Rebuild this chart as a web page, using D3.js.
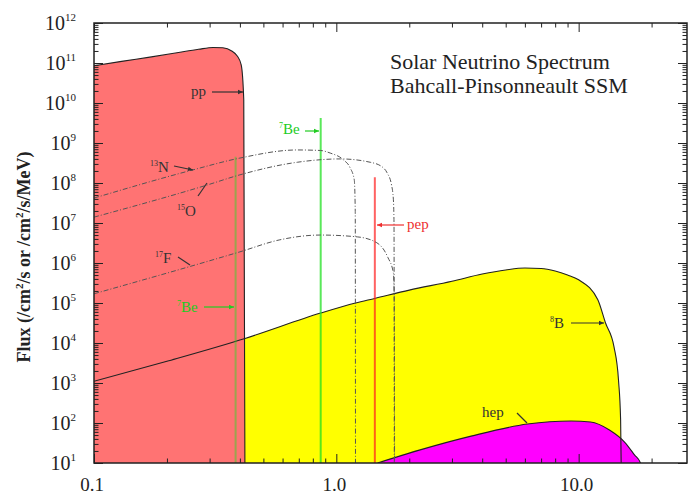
<!DOCTYPE html>
<html>
<head>
<meta charset="utf-8">
<script src="https://cdn.jsdelivr.net/npm/d3@7"></script>
<style>
body{margin:0;background:#fff}
svg{display:block;font-family:"Liberation Serif","DejaVu Serif",serif}
</style>
</head>
<body>
<svg width="688" height="494"></svg>
<script>
// energies in MeV, continuum fluxes in /cm2/s/MeV, lines in /cm2/s
var ppE = [0.1, 0.13, 0.17, 0.22, 0.27, 0.31, 0.34, 0.37, 0.39, 0.405, 0.415, 0.42];
var ppF = [8.5e10, 1.1e11, 1.4e11, 1.8e11, 2.2e11, 2.45e11, 2.4e11, 2.0e11, 1.5e11, 9e10, 1.2e10, 1];

var b8E = [0.1, 0.2, 0.42, 0.862, 1.2, 1.44, 2, 3, 4, 5, 6, 7, 8, 9, 10, 12, 12.9, 14, 14.6, 14.9, 15.05];
var b8F = [1.1e3, 3.5e3, 1.3e4, 5.6e4, 1e5, 1.3e5, 2.1e5, 3.5e5, 5.3e5, 6.7e5, 7.5e5, 7.3e5, 6.3e5, 5.0e5, 3.8e5, 1.2e5, 3.2e4, 7.9e3, 1.2e3, 1.2e2, 1];

var hepE = [1.48, 2.2, 3.6, 6.15, 9.3, 11.2, 13.4, 15.5, 17, 18, 18.3];
var hepF = [10, 21, 47, 94, 112, 106, 67, 33, 16, 10, 1];

var n13E = [0.1, 0.254, 0.4, 0.69, 0.86, 0.944, 1.069, 1.14, 1.186, 1.197, 1.2];
var n13F = [4.2e7, 2.1e8, 4.2e8, 6.7e8, 6.5e8, 5.6e8, 3.8e8, 2.4e8, 1.2e8, 2e7, 1];

var o15E = [0.1, 0.293, 0.4, 0.69, 1.04, 1.38, 1.55, 1.62, 1.69, 1.72, 1.73, 1.735];
var o15F = [1.4e7, 8.9e7, 1.6e8, 3.3e8, 4e8, 3.3e8, 2.5e8, 1.8e8, 8.9e7, 3.8e7, 1e7, 1];

var f17E = [0.1, 0.4, 0.585, 0.86, 1.22, 1.47, 1.63, 1.72, 1.735, 1.74];
var f17F = [1.7e5, 1.9e6, 3.8e6, 5e6, 4.5e6, 3.2e6, 1.4e6, 5.6e5, 1e5, 1];

var be7E = [0.384, 0.862];
var be7F = [4.5e8, 4.2e9];
var pepE = [1.442];
var pepF = [1.4e8];

var xMajor = [0.1, 1, 10];
var xLabels = ["0.1", "1.0", "10.0"];
var yExp = [1, 2, 3, 4, 5, 6, 7, 8, 9, 10, 11, 12];

var svg = d3.select("svg");
var L = 94, R = 687, T = 23, B = 463;
var x = d3.scaleLog().domain([0.1, 28]).range([L, R]);
var y = d3.scaleLog().domain([10, 1e12]).range([B, T]);

svg.append("clipPath").attr("id", "clip").append("rect")
  .attr("x", L).attr("y", T).attr("width", R - L).attr("height", B - T);
var plot = svg.append("g").attr("clip-path", "url(#clip)");

function pts(E, F) { return E.map(function(e, i) { return [e, F[i]]; }); }
var area = d3.area().x(function(d){return x(d[0]);}).y0(B).y1(function(d){return y(d[1]);}).curve(d3.curveMonotoneX);
var line = d3.line().x(function(d){return x(d[0]);}).y(function(d){return y(d[1]);}).curve(d3.curveMonotoneX);

// fills
plot.append("path").attr("d", area(pts(b8E, b8F))).attr("fill", "#ffff00");
plot.append("path").attr("d", area(pts(ppE, ppF))).attr("fill", "#ff7373");
plot.append("path").attr("d", area(pts(hepE, hepF))).attr("fill", "#ff00ff");

// outlines
[[b8E, b8F], [ppE, ppF], [hepE, hepF]].forEach(function(s) {
  plot.append("path").attr("d", line(pts(s[0], s[1])))
    .attr("fill", "none").attr("stroke", "#222").attr("stroke-width", 1.1);
});

// lines 7Be, pep
be7E.forEach(function(e, i) {
  plot.append("line").attr("x1", x(e)).attr("x2", x(e)).attr("y1", y(be7F[i])).attr("y2", B)
    .attr("stroke", "#22e022").attr("stroke-opacity", i == 0 ? 0.45 : 0.75).attr("stroke-width", 2);
});
pepE.forEach(function(e, i) {
  plot.append("line").attr("x1", x(e)).attr("x2", x(e)).attr("y1", y(pepF[i])).attr("y2", B)
    .attr("stroke", "#ff2020").attr("stroke-opacity", 0.7).attr("stroke-width", 2);
});

// CNO dashed
[[n13E, n13F], [o15E, o15F], [f17E, f17F]].forEach(function(s) {
  plot.append("path").attr("d", line(pts(s[0], s[1])))
    .attr("fill", "none").attr("stroke", "#555").attr("stroke-width", 1)
    .attr("stroke-dasharray", "5,2,1,2");
});

// axes
function minors(lo, hi, max) {
  var t = [];
  for (var p = lo; p < hi; p++) for (var k = 2; k < 10; k++) {
    var v = k * Math.pow(10, p); if (v <= max) t.push(v);
  }
  return t;
}
var xMin = minors(-1, 2, 28), yMin = minors(1, 12, 1e12);
var yMaj = yExp.map(function(p){ return Math.pow(10, p); });
function ax(gen, scale, vals, size, tr) {
  var g = svg.append("g").attr("transform", tr)
    .call(gen(scale).tickValues(vals).tickSize(-size).tickSizeOuter(0).tickFormat(""));
  g.select(".domain").remove();
  g.selectAll("line").attr("stroke", "#222");
}
ax(d3.axisLeft, y, yMaj, 9, "translate(" + L + ",0)");
ax(d3.axisLeft, y, yMin, 4.5, "translate(" + L + ",0)");
ax(d3.axisRight, y, yMaj, 9, "translate(" + R + ",0)");
ax(d3.axisRight, y, yMin, 4.5, "translate(" + R + ",0)");
ax(d3.axisBottom, x, xMajor, 9, "translate(0," + B + ")");
ax(d3.axisBottom, x, xMin, 4.5, "translate(0," + B + ")");
ax(d3.axisTop, x, xMajor, 9, "translate(0," + T + ")");
ax(d3.axisTop, x, xMin, 4.5, "translate(0," + T + ")");

svg.append("rect").attr("x", L).attr("y", T).attr("width", R - L).attr("height", B - T)
  .attr("fill", "none").attr("stroke", "#222").attr("stroke-width", 1.5);

// tick labels
yExp.forEach(function(p) {
  var t = svg.append("text").attr("x", 76).attr("y", y(Math.pow(10, p)) + 7)
    .attr("text-anchor", "end").attr("font-size", 20).attr("fill", "#222");
  t.append("tspan").text("10");
  t.append("tspan").attr("dy", -9).attr("font-size", 11).text(p);
});
xMajor.forEach(function(v, i) {
  svg.append("text").attr("x", x(v) - 2).attr("y", 491).attr("text-anchor", "middle")
    .attr("font-size", 19).attr("fill", "#222").text(xLabels[i]);
});

// y title
var yt = svg.append("text").attr("transform", "translate(30,257) rotate(-90)")
  .attr("text-anchor", "middle").attr("font-size", 18).attr("font-weight", "bold").attr("fill", "#222");
yt.append("tspan").text("Flux (/cm");
yt.append("tspan").attr("dy", -7).attr("font-size", 11).text("2");
yt.append("tspan").attr("dy", 7).text("/s or /cm");
yt.append("tspan").attr("dy", -7).attr("font-size", 11).text("2");
yt.append("tspan").attr("dy", 7).text("/s/MeV)");

// title
svg.append("text").attr("x", 390).attr("y", 69).attr("font-size", 22).attr("fill", "#222").text("Solar Neutrino Spectrum");
svg.append("text").attr("x", 390).attr("y", 93).attr("font-size", 22).attr("fill", "#222").text("Bahcall-Pinsonneault SSM");

// annotations
var ann = svg.append("g").attr("font-size", 15);
function label(px, py, sup, txt, col) {
  var t = ann.append("text").attr("x", px).attr("y", py).attr("fill", col);
  if (sup) t.append("tspan").attr("font-size", 8).attr("dy", -6).text(sup);
  t.append("tspan").attr("dy", sup ? 6 : 0).text(txt);
}
function arrow(x1, y1, x2, y2, col, head) {
  ann.append("line").attr("x1", x1).attr("y1", y1).attr("x2", x2).attr("y2", y2)
    .attr("stroke", col).attr("stroke-width", 1.2);
  if (head) {
    var a = Math.atan2(y2 - y1, x2 - x1), s = 5;
    var p = [[x2, y2],
      [x2 - s * Math.cos(a) + 2.2 * Math.sin(a), y2 - s * Math.sin(a) - 2.2 * Math.cos(a)],
      [x2 - s * Math.cos(a) - 2.2 * Math.sin(a), y2 - s * Math.sin(a) + 2.2 * Math.cos(a)]];
    ann.append("path").attr("d", "M" + p.join("L") + "Z").attr("fill", col);
  }
}
var dark = "#333", green = "#22cc22", red = "#ee3030";
label(191, 96, null, "pp", dark); arrow(212, 92, 243, 92, dark, true);
label(279, 134, "7", "Be", green); arrow(305, 131, 319, 131, green, true);
label(150, 172, "13", "N", dark); arrow(174, 166, 193, 170, dark, true);
label(177, 216, "15", "O", dark); arrow(198, 196, 207, 183, dark, false);
label(155, 263, "17", "F", dark); arrow(178, 257, 190, 265, dark, false);
label(177, 312, "7", "Be", green); arrow(204, 307, 234, 307, green, true);
label(407, 229, null, "pep", red); arrow(404, 225, 377, 225, red, true);
label(550, 328, "8", "B", dark); arrow(571, 323, 604, 323, dark, true);
label(482, 417, null, "hep", dark); arrow(517, 413, 527, 423, dark, false);
</script>
</body>
</html>
